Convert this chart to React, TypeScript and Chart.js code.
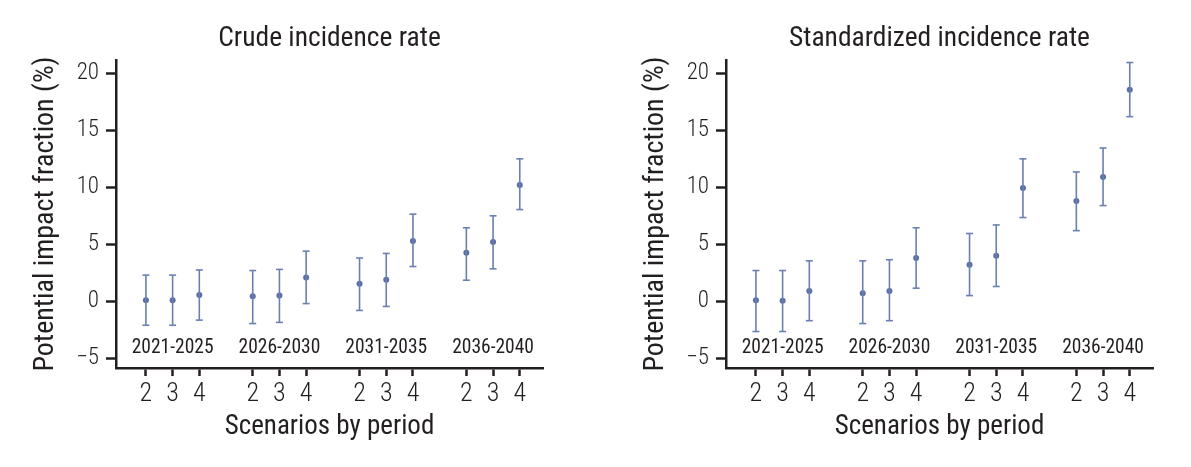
import React, { useEffect, useRef } from 'react';
import { Chart, registerables } from 'chart.js';
Chart.register(...registerables);

const periods = ['2021-2025', '2026-2030', '2031-2035', '2036-2040'];
const scenarios = ['2', '3', '4'];
const positions = [1, 2, 3, 5, 6, 7, 9, 10, 11, 13, 14, 15];
const yTicks = [-5, 0, 5, 10, 15, 20];

const crudeEst = [0.1, 0.1, 0.55, 0.45, 0.5, 2.1, 1.55, 1.9, 5.3, 4.25, 5.2, 10.2];
const crudeLow = [-2.1, -2.1, -1.65, -1.95, -1.85, -0.2, -0.8, -0.45, 3.05, 1.85, 2.85, 8.05];
const crudeHigh = [2.3, 2.3, 2.75, 2.7, 2.8, 4.4, 3.8, 4.2, 7.65, 6.45, 7.5, 12.5];

const stdEst = [0.1, 0.05, 0.9, 0.7, 0.9, 3.8, 3.2, 4.0, 9.95, 8.8, 10.9, 18.55];
const stdLow = [-2.65, -2.65, -1.7, -1.95, -1.7, 1.15, 0.5, 1.3, 7.35, 6.2, 8.4, 16.2];
const stdHigh = [2.7, 2.7, 3.55, 3.55, 3.65, 6.45, 5.95, 6.7, 12.5, 11.35, 13.45, 20.95];

const FONT = "'Roboto Condensed', 'DejaVu Sans Condensed', sans-serif";
const TEXT = '#231f20';
const AXIS = '#231f20';
const POINT = '#5a6ea3';
const BAR = '#6b80b1';

const periodPlugin = {
  id: 'periodLabels',
  afterDatasetsDraw(chart: any) {
    const { ctx, chartArea, scales } = chart;
    const x = scales.x;
    ctx.save();
    ctx.font = `normal 19.5px ${FONT}`;
    ctx.fillStyle = TEXT;
    ctx.textAlign = 'center';
    ctx.textBaseline = 'middle';
    periods.forEach((p, i) => {
      const px = x.getPixelForValue(positions[i * 3 + 1]);
      ctx.fillText(p, px, chartArea.bottom - 19.5);
    });
    ctx.restore();
  },
};

function Panel({ title, est, low, high, left }: { title: string; est: number[]; low: number[]; high: number[]; left: number }) {
  const ref = useRef<HTMLCanvasElement>(null);
  useEffect(() => {
    if (!ref.current) return;
    const whisker: any[] = [];
    positions.forEach((p, i) => {
      whisker.push({ x: p, y: low[i] }, { x: p, y: high[i] }, { x: p, y: null });
    });
    const caps: any[] = [];
    positions.forEach((p, i) => {
      caps.push({ x: p, y: low[i] }, { x: p, y: high[i] });
    });
    const pts = positions.map((p, i) => ({ x: p, y: est[i] }));
    const chart = new Chart(ref.current, {
      type: 'scatter',
      data: {
        datasets: [
          {
            type: 'line',
            data: whisker,
            showLine: true,
            spanGaps: false,
            borderColor: BAR,
            borderWidth: 1.6,
            pointRadius: 0,
            fill: false,
          } as any,
          {
            type: 'scatter',
            data: caps,
            pointStyle: 'line',
            pointRadius: 3.5,
            borderColor: BAR,
            borderWidth: 1.6,
          } as any,
          {
            type: 'scatter',
            data: pts,
            pointRadius: 3,
            backgroundColor: POINT,
            borderWidth: 0,
          } as any,
        ],
      },
      options: {
        animation: false,
        responsive: false,
        clip: false as any,
        layout: { padding: { left: 0, right: 38, top: 0, bottom: 0 } },
        plugins: {
          legend: { display: false },
          tooltip: { enabled: false },
          title: {
            display: true,
            text: title,
            fullSize: false,
            color: TEXT,
            font: { family: FONT, size: 27.5, weight: 'normal', lineHeight: 1.2 },
            padding: { top: 23, bottom: 4 },
          },
        },
        scales: {
          x: {
            type: 'linear',
            min: -0.12,
            max: 15.87,
            afterFit: (s: any) => { s.height = 99; },
            afterBuildTicks: (s: any) => { s.ticks = positions.map((v) => ({ value: v })); },
            ticks: {
              autoSkip: false,
              maxRotation: 0,
              padding: 3,
              color: TEXT,
              font: { family: FONT, size: 26, weight: '300' },
              callback: (_v: any, i: number) => scenarios[i % 3],
            },
            grid: {
              display: true,
              drawOnChartArea: false,
              drawTicks: true,
              tickLength: 8,
              tickWidth: 2.5,
              tickColor: AXIS,
            },
            border: { display: true, color: AXIS, width: 2.5 },
            title: {
              display: true,
              text: 'Scenarios by period',
              color: TEXT,
              font: { family: FONT, size: 27 },
              padding: { top: 0, bottom: 24 },
            },
          },
          y: {
            type: 'linear',
            min: -5.85,
            max: 21.17,
            afterFit: (s: any) => { s.width = 116; },
            afterBuildTicks: (s: any) => { s.ticks = yTicks.map((v) => ({ value: v })); },
            ticks: {
              padding: 7,
              color: TEXT,
              font: { family: FONT, size: 23, weight: '300' },
              callback: (v: any) => (Number(v) < 0 ? '\u2212' + Math.abs(Number(v)) : String(v)),
            },
            grid: {
              display: true,
              drawOnChartArea: false,
              drawTicks: true,
              tickLength: 10,
              tickWidth: 2.5,
              tickColor: AXIS,
            },
            border: { display: true, color: AXIS, width: 2.5 },
            title: {
              display: true,
              text: 'Potential impact fraction (%)',
              color: TEXT,
              font: { family: FONT, size: 28 },
              padding: { top: 29, bottom: 0 },
            },
          },
        },
      } as any,
      plugins: [periodPlugin],
    });
    return () => chart.destroy();
  }, [title, est, low, high]);
  return (
    <div style={{ position: 'absolute', top: 0, left, width: 581, height: 467 }}>
      <canvas ref={ref} width={581} height={467} style={{ width: 581, height: 467, display: 'block' }} />
    </div>
  );
}

export default function App() {
  return (
    <div style={{ position: 'absolute', top: 0, left: 0, width: 1191, height: 467, background: '#fff' }}>
      <Panel title="Crude incidence rate" est={crudeEst} low={crudeLow} high={crudeHigh} left={0} />
      <Panel title="Standardized incidence rate" est={stdEst} low={stdLow} high={stdHigh} left={610} />
    </div>
  );
}
